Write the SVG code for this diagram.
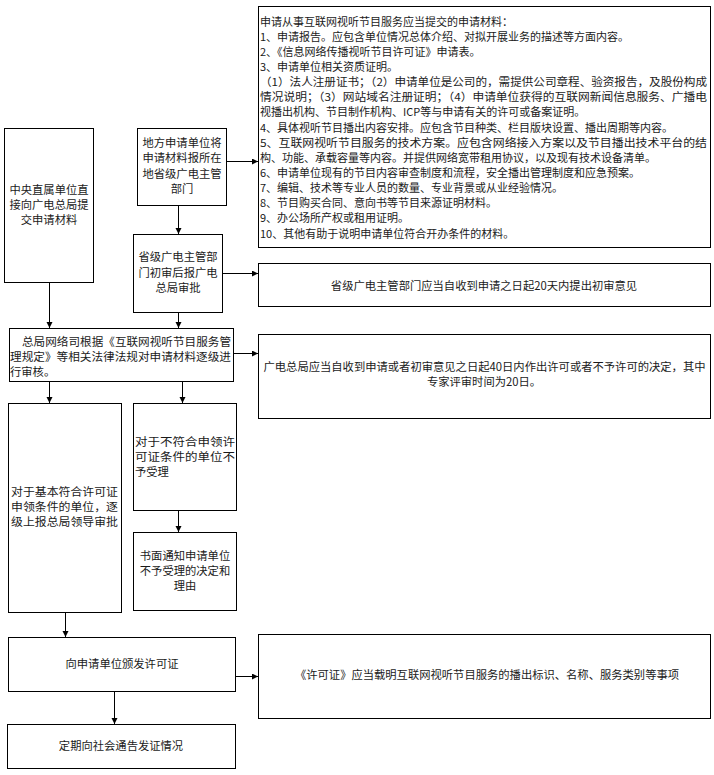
<svg xmlns="http://www.w3.org/2000/svg" width="714" height="775" viewBox="0 0 714 775">
<defs>
<style>
.box{fill:#fff;stroke:#000;stroke-width:1}
text{font-family:"Noto Sans CJK SC","Noto Sans",sans-serif;font-size:11.3px;fill:#1a1a1a}
.big text{font-size:11px}
.c{text-anchor:middle}
.conn path{fill:none;stroke:#000;stroke-width:1;marker-end:url(#ah)}
</style>
<marker id="ah" markerUnits="userSpaceOnUse" markerWidth="7" markerHeight="7" refX="6" refY="3" orient="auto">
<path d="M0,0 L6,3 L0,6 z" fill="#000"/>
</marker>
</defs>
<rect width="714" height="775" fill="#fff"/>

<g id="materials" class="big">
<rect class="box" x="258.5" y="6.5" width="452" height="241"/>
<text x="260" y="25.5">申请从事互联网视听节目服务应当提交的申请材料：</text>
<text x="260" y="40.6">1、申请报告。应包含单位情况总体介绍、对拟开展业务的描述等方面内容。</text>
<text x="260" y="55.8">2、《信息网络传播视听节目许可证》申请表。</text>
<text x="260" y="70.9">3、申请单位相关资质证明。</text>
<text x="260" y="86.1" textLength="447" lengthAdjust="spacingAndGlyphs">（1）法人注册证书；（2）申请单位是公司的，需提供公司章程、验资报告，及股份构成</text>
<text x="260" y="101.2" textLength="447" lengthAdjust="spacingAndGlyphs">情况说明；（3）网站域名注册证明；（4）申请单位获得的互联网新闻信息服务、广播电</text>
<text x="260" y="116.4">视播出机构、节目制作机构、ICP等与申请有关的许可或备案证明。</text>
<text x="260" y="131.5">4、具体视听节目播出内容安排。应包含节目种类、栏目版块设置、播出周期等内容。</text>
<text x="260" y="146.7" textLength="447" lengthAdjust="spacingAndGlyphs">5、互联网视听节目服务的技术方案。应包含网络接入方案以及节目播出技术平台的结</text>
<text x="260" y="161.8">构、功能、承载容量等内容。并提供网络宽带租用协议，以及现有技术设备清单。</text>
<text x="260" y="177.0">6、申请单位现有的节目内容审查制度和流程，安全播出管理制度和应急预案。</text>
<text x="260" y="192.1">7、编辑、技术等专业人员的数量、专业背景或从业经验情况。</text>
<text x="260" y="207.3">8、节目购买合同、意向书等节目来源证明材料。</text>
<text x="260" y="222.4">9、办公场所产权或租用证明。</text>
<text x="260" y="237.6">10、其他有助于说明申请单位符合开办条件的材料。</text>
</g>

<g id="central">
<rect class="box" x="4.5" y="128.5" width="89" height="154"/>
<text class="c" x="49" y="194">中央直属单位直</text>
<text class="c" x="49" y="209">接向广电总局提</text>
<text class="c" x="49" y="224">交申请材料</text>
</g>

<g id="local">
<rect class="box" x="137.5" y="128.5" width="89" height="77"/>
<text class="c" x="182" y="147">地方申请单位将</text>
<text class="c" x="182" y="162">申请材料报所在</text>
<text class="c" x="182" y="178">地省级广电主管</text>
<text class="c" x="182" y="193">部门</text>
</g>

<g id="provincial">
<rect class="box" x="133.5" y="234.5" width="89" height="78"/>
<text class="c" x="178" y="261">省级广电主管部</text>
<text class="c" x="178" y="277">门初审后报广电</text>
<text class="c" x="178" y="292">总局审批</text>
</g>

<g id="note20">
<rect class="box" x="258.5" y="263.5" width="452" height="43"/>
<text class="c" x="484" y="290">省级广电主管部门应当自收到申请之日起20天内提出初审意见</text>
</g>

<g id="review">
<rect class="box" x="9.5" y="328.5" width="224" height="53"/>
<text x="22" y="346" textLength="209" lengthAdjust="spacingAndGlyphs">总局网络司根据《互联网视听节目服务管</text>
<text x="10" y="361" textLength="221" lengthAdjust="spacingAndGlyphs">理规定》等相关法律法规对申请材料逐级进</text>
<text x="10" y="376">行审核。</text>
</g>

<g id="note40">
<rect class="box" x="258.5" y="334.5" width="452" height="84"/>
<text class="c" x="484.5" y="371" textLength="442" lengthAdjust="spacingAndGlyphs">广电总局应当自收到申请或者初审意见之日起40日内作出许可或者不予许可的决定，其中</text>
<text class="c" x="484" y="386">专家评审时间为20日。</text>
</g>

<g id="qualified">
<rect class="box" x="8.5" y="403.5" width="113" height="209"/>
<text x="11" y="496" textLength="107" lengthAdjust="spacingAndGlyphs">对于基本符合许可证</text>
<text x="11" y="511" textLength="107" lengthAdjust="spacingAndGlyphs">申领条件的单位，逐</text>
<text x="11" y="526" textLength="107" lengthAdjust="spacingAndGlyphs">级上报总局领导审批</text>
</g>

<g id="unqualified">
<rect class="box" x="133.5" y="403.5" width="103" height="107"/>
<text x="135" y="446" textLength="100" lengthAdjust="spacingAndGlyphs">对于不符合申领许</text>
<text x="135" y="461" textLength="100" lengthAdjust="spacingAndGlyphs">可证条件的单位不</text>
<text x="135" y="476">予受理</text>
</g>

<g id="notify">
<rect class="box" x="133.5" y="532.5" width="103" height="78"/>
<text class="c" x="185" y="560">书面通知申请单位</text>
<text class="c" x="185" y="575">不予受理的决定和</text>
<text class="c" x="185" y="590">理由</text>
</g>

<g id="issue">
<rect class="box" x="8.5" y="637.5" width="227" height="54"/>
<text class="c" x="122" y="668">向申请单位颁发许可证</text>
</g>

<g id="licnote">
<rect class="box" x="258.5" y="634.5" width="452" height="84"/>
<text class="c" x="487" y="679">《许可证》应当载明互联网视听节目服务的播出标识、名称、服务类别等事项</text>
</g>

<g id="publish">
<rect class="box" x="7.5" y="724.5" width="228" height="44"/>
<text class="c" x="121" y="750">定期向社会通告发证情况</text>
</g>

<g id="connectors" class="conn">
<path d="M227,161.5 H258"/>
<path d="M178.5,206 V234"/>
<path d="M223,273.5 H258"/>
<path d="M49.5,283 V328"/>
<path d="M178.5,313 V328"/>
<path d="M234,353.5 H258"/>
<path d="M49.5,382 V403"/>
<path d="M182.5,382 V403"/>
<path d="M178.5,511 V532"/>
<path d="M65.5,613 V637"/>
<path d="M236,676.5 H258"/>
<path d="M114.5,692 V724"/>
</g>
</svg>
